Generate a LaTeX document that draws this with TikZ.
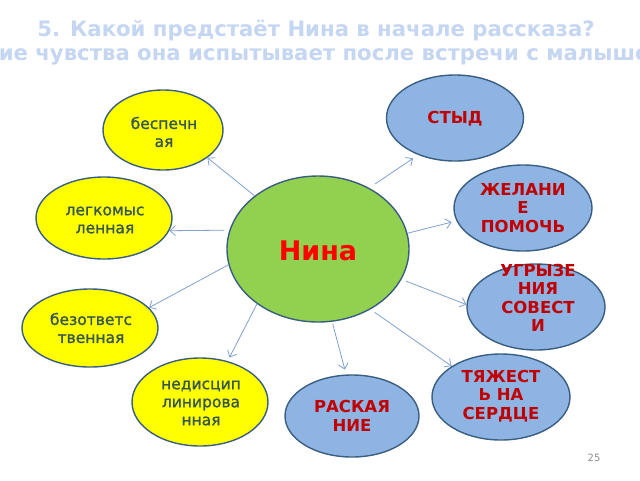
\documentclass[tikz,border=0pt]{standalone}
\usepackage{fontspec}
\setmainfont{DejaVu Sans}
\newfontfamily\ysemi[FakeBold=1.3]{DejaVu Sans}
\usetikzlibrary{shapes.geometric,arrows.meta}
\definecolor{edge}{HTML}{3A5E82}
\definecolor{yfill}{HTML}{FFFF00}
\definecolor{bfill}{HTML}{8EB4E3}
\definecolor{gfill}{HTML}{92D050}
\definecolor{ytxt}{HTML}{385650}
\definecolor{btxt}{HTML}{C00000}
\definecolor{arr}{HTML}{7FA0D0}
\definecolor{ttl}{HTML}{C4D6F2}
\begin{document}
\begin{tikzpicture}[x=1pt,y=-1pt,
  yel/.style={ellipse,draw=edge,line width=1.4pt,fill=yfill,inner sep=0pt},
  blu/.style={ellipse,draw=edge,line width=1.4pt,fill=bfill,inner sep=0pt},
  ytext/.style={text=ytxt,font=\ysemi\fontsize{15.5}{18}\selectfont,align=center,inner sep=0pt},
  btext/.style={text=btxt,font=\fontsize{16.5}{18.5}\selectfont\bfseries,align=center,inner sep=0pt},
  ttext/.style={text=ttl,font=\fontsize{21.2}{24}\selectfont\bfseries,anchor=base},
  con/.style={draw=arr,line width=0.8pt,-{Straight Barb[length=5.5pt,width=10pt]}}]
\useasboundingbox (0,0) rectangle (640,480);
\clip (0,0) rectangle (640,480);
% title
\node[ttext] (title1) at (316,36) {5. Какой предстаёт Нина в начале рассказа?};
\node[ttext] (title2) at (316,60) {Какие чувства она испытывает после встречи с малышом?};
% ellipses
\node[yel,minimum width=120pt,minimum height=80pt] (besp) at (163,130) {};
\node[blu,minimum width=137pt,minimum height=86pt] (styd) at (455,118) {};
\node[yel,minimum width=136pt,minimum height=82pt] (legk) at (104,218) {};
\node[ellipse,draw=edge,line width=1.4pt,fill=gfill,inner sep=0pt,minimum width=182pt,minimum height=146pt] (nina) at (318,249) {};
\node[blu,minimum width=138pt,minimum height=86pt] (zhel) at (523,208) {};
\node[blu,minimum width=138pt,minimum height=86pt] (ugr) at (536,307) {};
\node[yel,minimum width=136pt,minimum height=78pt] (bezo) at (90,328) {};
\node[yel,minimum width=136pt,minimum height=88pt] (nedi) at (200,402) {};
\node[blu,minimum width=134pt,minimum height=82pt] (rask) at (352,416) {};
\node[blu,minimum width=138pt,minimum height=86pt] (tyazh) at (501,397) {};
% texts
\node[ytext] (tbesp) at (164,132) {беспечн\\ая};
\node[btext] (tstyd) at (455,119) {СТЫД};
\node[ytext] (tlegk) at (105,220) {легкомыс\\ленная};
\node[text=red,font=\fontsize{27}{30}\selectfont\bfseries,inner sep=0pt] (tnina) at (318,251) {Нина};
\node[btext] (tzhel) at (523,208) {ЖЕЛАНИ\\Е\\ПОМОЧЬ};
\node[btext] (tugr) at (538,298) {УГРЫЗЕ\\НИЯ\\СОВЕСТ\\И};
\node[ytext] (tbezo) at (91,328) {безответс\\твенная};
\node[ytext] (tnedi) at (201,403) {недисцип\\линирова\\нная};
\node[btext] (trask) at (352,416) {РАСКАЯ\\НИЕ};
\node[btext] (ttyazh) at (501,396) {ТЯЖЕСТ\\Ь НА\\СЕРДЦЕ};
% connectors
\draw[con] (nina.140) -- (besp.-32.5);
\draw[con,shorten <=7pt,shorten >=6pt] (nina.50) -- (styd.225.7);
\draw[con,shorten >=5pt] (nina.10) -- (zhel.191);
\draw[con,shorten <=5pt] (nina.168.5) -- (legk.-11);
\draw[con] (nina.190) -- (bezo.19.3);
\draw[con,shorten >=4pt] (nina.222.5) -- (nedi.56.6);
\draw[con,shorten <=2pt,shorten >=5pt] (nina.281.5) -- (rask.98.7);
\draw[con,shorten <=5pt] (nina.-20.8) -- (ugr.178.4);
\draw[con,shorten <=5pt] (nina.-49.3) -- (tyazh.148.5);
% page number
\node[text=black!45,font=\fontsize{10}{12}\selectfont] (pg) at (594,458) {25};
\end{tikzpicture}
\end{document}
